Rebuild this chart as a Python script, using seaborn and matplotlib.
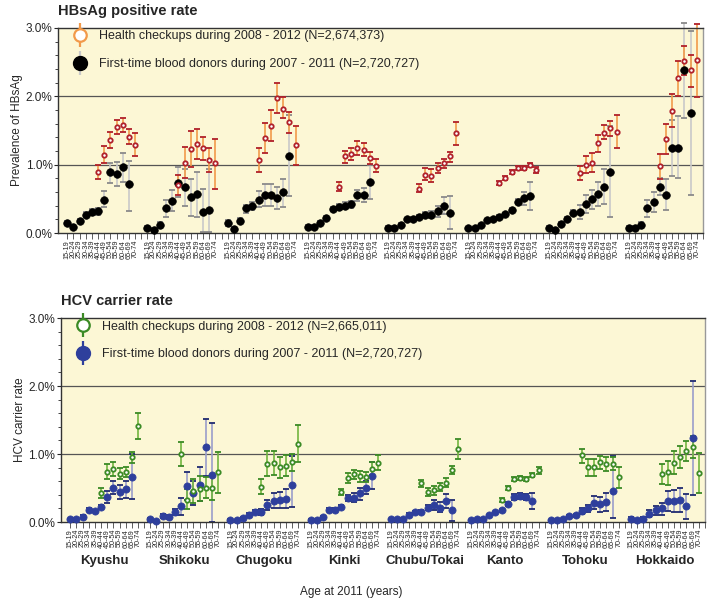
import matplotlib
matplotlib.use('Agg')
import matplotlib.pyplot as plt
import matplotlib.transforms as mtransforms
from matplotlib.legend_handler import HandlerErrorbar
from matplotlib.ticker import MultipleLocator, FuncFormatter
import seaborn as sns
import pandas as pd

regions = ['Kyushu', 'Shikoku', 'Chugoku', 'Kinki', 'Chubu/Tokai', 'Kanto', 'Tohoku', 'Hokkaido']
all_ages = ['15-19', '20-24', '25-29', '30-34', '35-39', '40-44', '45-49',
            '50-54', '55-59', '60-64', '65-69', '70-74']
donor_ages = all_ages[:11]
check_ages = all_ages[5:]

# HBsAg, first-time blood donors (%), per region
hbs_donor = [
    [0.15, 0.09, 0.17, 0.27, 0.31, 0.32, 0.49, 0.90, 0.87, 0.96, 0.71],
    [0.07, 0.045, 0.12, 0.36, 0.47, 0.73, 0.68, 0.52, 0.57, 0.31, 0.33],
    [0.14, 0.06, 0.18, 0.36, 0.40, 0.49, 0.56, 0.56, 0.51, 0.60, 1.12],
    [0.09, 0.09, 0.15, 0.22, 0.35, 0.38, 0.40, 0.42, 0.56, 0.56, 0.75],
    [0.08, 0.08, 0.12, 0.20, 0.21, 0.24, 0.27, 0.27, 0.32, 0.40, 0.30],
    [0.08, 0.08, 0.12, 0.19, 0.21, 0.24, 0.28, 0.34, 0.46, 0.51, 0.54],
    [0.08, 0.05, 0.13, 0.20, 0.30, 0.31, 0.42, 0.50, 0.57, 0.68, 0.90],
    [0.07, 0.07, 0.12, 0.36, 0.45, 0.67, 0.56, 1.24, 1.24, 2.39, 1.76],
]
hbs_donor_lo = [
    [0.12, 0.07, 0.14, 0.23, 0.27, 0.27, 0.38, 0.73, 0.69, 0.74, 0.32],
    [0.04, 0.02, 0.08, 0.24, 0.32, 0.52, 0.39, 0.25, 0.24, 0.02, 0.01],
    [0.10, 0.03, 0.14, 0.30, 0.34, 0.38, 0.40, 0.40, 0.35, 0.38, 0.54],
    [0.07, 0.07, 0.13, 0.19, 0.32, 0.34, 0.35, 0.37, 0.47, 0.46, 0.50],
    [0.06, 0.06, 0.10, 0.18, 0.19, 0.21, 0.23, 0.22, 0.24, 0.28, 0.06],
    [0.07, 0.07, 0.11, 0.18, 0.20, 0.22, 0.26, 0.31, 0.42, 0.41, 0.34],
    [0.06, 0.03, 0.10, 0.17, 0.26, 0.21, 0.30, 0.35, 0.40, 0.42, 0.23],
    [0.04, 0.04, 0.08, 0.24, 0.31, 0.55, 0.33, 0.83, 0.81, 1.69, 0.55],
]
hbs_donor_hi = [
    [0.18, 0.11, 0.20, 0.31, 0.35, 0.37, 0.61, 1.02, 1.04, 1.17, 1.06],
    [0.10, 0.07, 0.16, 0.48, 0.63, 0.96, 0.94, 0.79, 0.89, 0.64, 0.94],
    [0.19, 0.09, 0.22, 0.41, 0.46, 0.62, 0.71, 0.72, 0.68, 0.79, 1.72],
    [0.11, 0.11, 0.17, 0.25, 0.38, 0.42, 0.45, 0.47, 0.63, 0.66, 0.99],
    [0.10, 0.10, 0.14, 0.22, 0.23, 0.27, 0.31, 0.32, 0.40, 0.52, 0.54],
    [0.09, 0.09, 0.13, 0.20, 0.22, 0.26, 0.30, 0.37, 0.50, 0.60, 0.74],
    [0.10, 0.07, 0.16, 0.23, 0.34, 0.41, 0.55, 0.63, 0.74, 0.93, 1.56],
    [0.10, 0.10, 0.16, 0.48, 0.60, 0.80, 0.79, 1.65, 1.71, 3.08, 2.96],
]

# HBsAg, health checkups (%)
hbs_check = [
    [0.90, 1.14, 1.36, 1.55, 1.58, 1.41, 1.29],
    [0.70, 1.03, 1.23, 1.30, 1.24, 1.07, 1.02],
    [1.07, 1.39, 1.57, 1.98, 1.82, 1.62, 1.29],
    [0.68, 1.12, 1.16, 1.24, 1.21, 1.10, 0.98],
    [0.65, 0.85, 0.84, 0.95, 1.02, 1.12, 1.46],
    [0.73, 0.80, 0.89, 0.95, 0.95, 0.99, 0.92],
    [0.88, 1.00, 1.03, 1.31, 1.47, 1.54, 1.48],
    [0.98, 1.38, 1.79, 2.27, 2.52, 2.38, 2.53],
]
hbs_check_lo = [
    [0.79, 1.02, 1.24, 1.45, 1.48, 1.30, 1.12],
    [0.55, 0.80, 0.96, 1.08, 1.07, 0.90, 0.64],
    [0.90, 1.17, 1.35, 1.75, 1.69, 1.46, 1.00],
    [0.61, 1.03, 1.07, 1.14, 1.12, 1.01, 0.89],
    [0.60, 0.77, 0.75, 0.88, 0.95, 1.04, 1.29],
    [0.70, 0.77, 0.86, 0.92, 0.92, 0.96, 0.88],
    [0.78, 0.88, 0.90, 1.19, 1.37, 1.42, 1.25],
    [0.79, 1.16, 1.55, 2.01, 2.31, 2.14, 1.99],
]
hbs_check_hi = [
    [0.99, 1.27, 1.48, 1.65, 1.68, 1.52, 1.46],
    [0.85, 1.26, 1.50, 1.52, 1.41, 1.25, 1.38],
    [1.24, 1.61, 1.80, 2.20, 1.99, 1.77, 1.57],
    [0.74, 1.20, 1.25, 1.34, 1.31, 1.18, 1.08],
    [0.72, 0.95, 0.93, 1.02, 1.08, 1.19, 1.62],
    [0.76, 0.83, 0.92, 0.98, 0.98, 1.02, 0.96],
    [0.98, 1.12, 1.17, 1.43, 1.58, 1.64, 1.72],
    [1.16, 1.60, 2.03, 2.52, 2.74, 2.60, 3.06],
]

# HCV, first-time blood donors (%)
hcv_donor = [
    [0.04, 0.045, 0.08, 0.18, 0.16, 0.22, 0.37, 0.50, 0.44, 0.48, 0.66],
    [0.04, 0.015, 0.09, 0.08, 0.15, 0.24, 0.53, 0.42, 0.55, 1.10, 0.69],
    [0.03, 0.025, 0.06, 0.11, 0.15, 0.15, 0.25, 0.31, 0.32, 0.34, 0.55],
    [0.03, 0.03, 0.07, 0.18, 0.18, 0.22, 0.35, 0.36, 0.42, 0.50, 0.68],
    [0.04, 0.04, 0.05, 0.11, 0.14, 0.15, 0.21, 0.25, 0.21, 0.31, 0.18],
    [0.03, 0.04, 0.05, 0.10, 0.14, 0.17, 0.27, 0.37, 0.38, 0.37, 0.31],
    [0.025, 0.025, 0.04, 0.09, 0.10, 0.16, 0.20, 0.28, 0.26, 0.30, 0.46],
    [0.05, 0.03, 0.05, 0.12, 0.17, 0.20, 0.31, 0.31, 0.32, 0.23, 1.24],
]
hcv_donor_lo = [
    [0.03, 0.035, 0.06, 0.16, 0.14, 0.19, 0.28, 0.41, 0.34, 0.35, 0.34],
    [0.02, 0.0, 0.06, 0.05, 0.11, 0.11, 0.33, 0.25, 0.31, 0.68, 0.0],
    [0.02, 0.015, 0.04, 0.09, 0.12, 0.11, 0.17, 0.20, 0.20, 0.21, 0.22],
    [0.02, 0.02, 0.05, 0.16, 0.16, 0.19, 0.31, 0.29, 0.33, 0.41, 0.48],
    [0.03, 0.03, 0.04, 0.09, 0.12, 0.13, 0.17, 0.17, 0.14, 0.21, 0.01],
    [0.025, 0.035, 0.045, 0.09, 0.13, 0.15, 0.24, 0.33, 0.34, 0.33, 0.19],
    [0.015, 0.015, 0.03, 0.07, 0.08, 0.12, 0.15, 0.19, 0.15, 0.16, 0.06],
    [0.03, 0.015, 0.03, 0.07, 0.11, 0.11, 0.16, 0.14, 0.14, 0.05, 0.39],
]
hcv_donor_hi = [
    [0.05, 0.055, 0.10, 0.20, 0.18, 0.25, 0.46, 0.60, 0.54, 0.61, 1.00],
    [0.06, 0.03, 0.12, 0.11, 0.19, 0.36, 0.74, 0.60, 0.81, 1.52, 1.46],
    [0.04, 0.035, 0.08, 0.13, 0.18, 0.19, 0.33, 0.42, 0.44, 0.48, 0.97],
    [0.04, 0.04, 0.09, 0.20, 0.20, 0.25, 0.39, 0.43, 0.50, 0.60, 0.88],
    [0.05, 0.05, 0.06, 0.13, 0.16, 0.17, 0.25, 0.33, 0.29, 0.41, 0.33],
    [0.035, 0.045, 0.055, 0.11, 0.15, 0.19, 0.30, 0.41, 0.42, 0.41, 0.43],
    [0.035, 0.035, 0.05, 0.11, 0.12, 0.20, 0.25, 0.38, 0.37, 0.43, 0.97],
    [0.07, 0.045, 0.07, 0.17, 0.23, 0.28, 0.46, 0.47, 0.50, 0.41, 2.07],
]

# HCV, health checkups (%)
hcv_check = [
    [0.43, 0.74, 0.78, 0.71, 0.74, 0.95, 1.41],
    [1.00, 0.33, 0.46, 0.49, 0.50, 0.50, 0.73],
    [0.51, 0.86, 0.87, 0.81, 0.83, 0.88, 1.15],
    [0.44, 0.65, 0.70, 0.68, 0.66, 0.78, 0.87],
    [0.57, 0.44, 0.47, 0.52, 0.58, 0.76, 1.07],
    [0.33, 0.50, 0.63, 0.65, 0.63, 0.69, 0.76],
    [0.98, 0.81, 0.81, 0.88, 0.85, 0.86, 0.66],
    [0.70, 0.73, 0.87, 0.96, 1.04, 1.10, 0.72],
]
hcv_check_lo = [
    [0.36, 0.63, 0.68, 0.63, 0.66, 0.87, 1.22],
    [0.83, 0.19, 0.28, 0.31, 0.36, 0.33, 0.42],
    [0.41, 0.68, 0.69, 0.65, 0.68, 0.75, 0.88],
    [0.40, 0.58, 0.63, 0.59, 0.59, 0.69, 0.76],
    [0.52, 0.38, 0.40, 0.46, 0.51, 0.70, 0.92],
    [0.30, 0.47, 0.60, 0.62, 0.60, 0.66, 0.71],
    [0.87, 0.68, 0.68, 0.78, 0.75, 0.76, 0.50],
    [0.56, 0.55, 0.70, 0.80, 0.90, 0.94, 0.42],
]
hcv_check_hi = [
    [0.50, 0.85, 0.88, 0.80, 0.81, 1.03, 1.61],
    [1.18, 0.49, 0.63, 0.68, 0.66, 0.68, 1.03],
    [0.63, 1.04, 1.04, 0.96, 0.99, 1.00, 1.42],
    [0.49, 0.72, 0.77, 0.75, 0.73, 0.88, 0.98],
    [0.62, 0.50, 0.53, 0.58, 0.64, 0.82, 1.22],
    [0.36, 0.53, 0.66, 0.68, 0.66, 0.72, 0.81],
    [1.08, 0.92, 0.92, 0.97, 0.95, 0.96, 0.81],
    [0.85, 0.90, 1.04, 1.12, 1.19, 1.26, 1.02],
]

SLOTS = 13  # 12 age groups + 1 empty slot between regions


def make_frame(mid, lo, hi, ages):
    rows = []
    for r, reg in enumerate(regions):
        for i, age in enumerate(ages):
            rows.append({'region': reg, 'age': age,
                         'pos': r * SLOTS + all_ages.index(age),
                         'rate': mid[r][i], 'lo': lo[r][i], 'hi': hi[r][i]})
    return pd.DataFrame(rows)


def draw_series(ax, df, bar_c, cap_c, face, edge, size, lw):
    eb = ax.errorbar(df['pos'], df['rate'],
                     yerr=[df['rate'] - df['lo'], df['hi'] - df['rate']],
                     fmt='none', ecolor=bar_c, elinewidth=1.2, capsize=1.9,
                     capthick=1.3, zorder=2, clip_on=False)
    for cl in eb[1]:
        cl.set_markeredgecolor(cap_c)
        cl.set_clip_on(False)
    for lc in eb[2]:
        lc.set_clip_on(False)
    sns.scatterplot(data=df, x='pos', y='rate', ax=ax, s=size, color=face,
                    edgecolor=edge, linewidth=lw, zorder=3, legend=False,
                    clip_on=False)


sns.set_style('ticks')
plt.rcParams['font.family'] = ['Liberation Sans', 'DejaVu Sans']

fig = plt.figure(figsize=(7.09, 6.06), dpi=100)
ax1 = fig.add_axes([0.0818, 0.6155, 0.9097, 0.3383])
ax2 = fig.add_axes([0.086, 0.1386, 0.9083, 0.3366])

bg = '#fcf7d5'
orange, dred = '#f29a4a', '#b0202a'
grey, dgrey = '#c9c9c9', '#8a8a8a'
lgreen, dgreen = '#72b540', '#3b8a25'
lblue, dblue, navy = '#9a9ecb', '#2e3f9c', '#1f2a70'

panels = [
    (ax1, 'HBsAg positive rate', 'Prevalence of HBsAg',
     make_frame(hbs_donor, hbs_donor_lo, hbs_donor_hi, donor_ages),
     make_frame(hbs_check, hbs_check_lo, hbs_check_hi, check_ages),
     'Health checkups during 2008 - 2012 (N=2,674,373)',
     'First-time blood donors during 2007 - 2011 (N=2,720,727)'),
    (ax2, 'HCV carrier rate', 'HCV carrier rate',
     make_frame(hcv_donor, hcv_donor_lo, hcv_donor_hi, donor_ages),
     make_frame(hcv_check, hcv_check_lo, hcv_check_hi, check_ages),
     'Health checkups during 2008 - 2012 (N=2,665,011)',
     'First-time blood donors during 2007 - 2011 (N=2,720,727)'),
]

n_slots = len(regions) * SLOTS
tick_lab = [all_ages[i % SLOTS] if i % SLOTS < len(all_ages) else ''
            for i in range(n_slots)]

for k, (ax, title, ylab, donors, checks, lab_c, lab_d) in enumerate(panels):
    ax.set_facecolor(bg)
    if k == 0:
        draw_series(ax, donors, grey, dgrey, 'black', 'black', 30, 0.5)
        draw_series(ax, checks, orange, dred, 'white', dred, 10, 1.3)
        c_col, c_cap, c_face, c_edge = orange, orange, 'white', orange
        d_col, d_cap, d_face, d_edge = grey, '#555555', 'black', 'black'
    else:
        draw_series(ax, donors, lblue, navy, dblue, dblue, 27, 0.5)
        draw_series(ax, checks, lgreen, dgreen, 'white', dgreen, 10, 1.3)
        c_col, c_cap, c_face, c_edge = dgreen, dgreen, 'white', dgreen
        d_col, d_cap, d_face, d_edge = dblue, navy, dblue, dblue

    ax.set_xlim(-1.5, 102.4)
    ax.set_ylim(0, 3.0)
    ax.axhline(1.0, color='#555555', lw=0.9, zorder=1)
    ax.axhline(2.0, color='#555555', lw=0.9, zorder=1)
    ax.yaxis.set_major_locator(MultipleLocator(1.0))
    ax.yaxis.set_minor_locator(MultipleLocator(0.2))
    ax.yaxis.set_major_formatter(FuncFormatter(lambda v, p: '%.1f%%' % v))
    ax.tick_params(axis='y', labelsize=8.5, length=3, width=0.8, pad=1)
    ax.tick_params(axis='y', which='minor', length=2, width=0.6)
    ax.set_xticks(range(n_slots))
    ax.set_xticklabels(tick_lab, rotation=90, fontsize=5.2)
    ax.tick_params(axis='x', length=4, width=0.6, color='#444444', pad=1)
    ax.set_xlabel('')
    ax.set_ylabel(ylab, fontsize=8.5, labelpad=2)
    for s in ax.spines.values():
        s.set_color('#333333')
        s.set_linewidth(1.0)
    ax.spines['right'].set_color('#999999')
    ax.text(0.0, 1.085, title, transform=ax.transAxes, fontsize=10.5,
            fontweight='bold', ha='left', va='center')

    h_c = ax.errorbar([], [], yerr=[], fmt='o', ms=9, mfc=c_face, mec=c_edge,
                      mew=1.6, ecolor=c_col, elinewidth=1.6, capsize=4.5, capthick=1.6)
    h_d = ax.errorbar([], [], yerr=[], fmt='o', ms=10, mfc=d_face, mec=d_edge,
                      mew=1.0, ecolor=d_col, elinewidth=1.6, capsize=4.5, capthick=1.6)
    for cl in h_d[1]:
        cl.set_markeredgecolor(d_cap)
    ax.legend([h_c, h_d], [lab_c, lab_d], loc='upper left', frameon=False,
              bbox_to_anchor=(0.012, 1.0), fontsize=9, labelspacing=1.25,
              handlelength=1.9, handletextpad=0.6,
              borderaxespad=0.1, borderpad=0.1,
              handler_map={type(h_c): HandlerErrorbar(yerr_size=0.95)})

trans = mtransforms.blended_transform_factory(ax2.transData, ax2.transAxes)
for r, reg in enumerate(regions):
    ax2.text(r * SLOTS + 5.5, -0.19, reg, transform=trans, ha='center',
             va='center', fontsize=9.5, fontweight='bold')
ax2.text(0.45, -0.345, 'Age at 2011 (years)', transform=ax2.transAxes,
         ha='center', va='center', fontsize=8.5)

fig.savefig('out.png', dpi=100)
